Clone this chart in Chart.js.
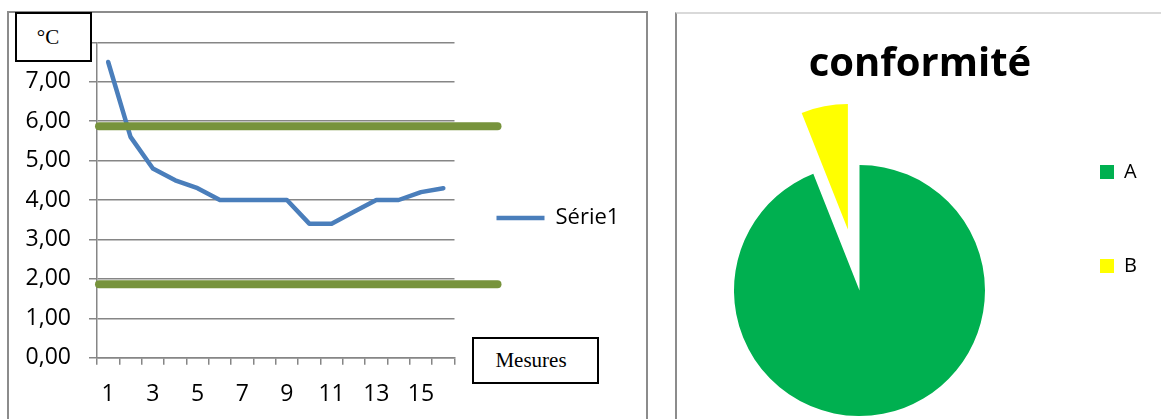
<!DOCTYPE html>
<html>
<head>
<meta charset="utf-8">
<script src="https://cdn.jsdelivr.net/npm/chart.js@4.4.1/dist/chart.umd.min.js"></script>
<style>
  html, body { margin: 0; padding: 0; background: #fff; overflow: hidden; width: 1161px; height: 419px; }
  #wrap { position: relative; width: 1161px; height: 419px; overflow: hidden; background: #fff; }
  .abs { position: absolute; }
  #leftPanel { left: 7px; top: 11px; width: 641px; height: 430px; box-sizing: border-box;
               border: 2px solid #8c8c8c; border-bottom: none; }
  #rightPanel { left: 675px; top: 12px; width: 500px; height: 430px; box-sizing: border-box;
                border-left: 2px solid #8c8c8c; border-top: 2px solid #d9d9d9; }
  #lineChart { left: 0; top: 0; }
  #pieChart { left: 660px; top: 13px; }
  .tbox { position: absolute; box-sizing: border-box; border: 2px solid #000; background: #fff;
          font-family: "Liberation Serif", "DejaVu Serif", serif; font-size: 21px; color: #000;
          display: flex; align-items: center; justify-content: center; }
</style>
</head>
<body>
<div id="wrap">
  <div id="leftPanel" class="abs"></div>
  <div id="rightPanel" class="abs"></div>
  <canvas id="lineChart" class="abs" width="660" height="419"></canvas>
  <canvas id="pieChart" class="abs" width="501" height="406"></canvas>
  <div class="tbox" style="left:15px;top:12px;width:77px;height:50px;padding-right:11px;">°C</div>
  <div class="tbox" style="left:472px;top:337px;width:127px;height:47px;padding-right:9px;">Mesures</div>
</div>
<script>
// ---------------- data ----------------
const categories = ['1','2','3','4','5','6','7','8','9','10','11','12','13','14','15','16'];
const seriesName = 'Série1';
const serie1 = [7.5, 5.6, 4.8, 4.5, 4.3, 4.0, 4.0, 4.0, 4.0, 3.4, 3.4, 3.7, 4.0, 4.0, 4.2, 4.3];
const limits = [5.87, 1.86];
const yTickLabels = ['0,00','1,00','2,00','3,00','4,00','5,00','6,00','7,00',''];
const pieTitle = 'conformité';
const pieLabels = ['A', 'B'];
const pieValues = [94, 6];

// ---------------- common ----------------
const FONT = '"Open Sans", "DejaVu Sans", sans-serif';
Chart.defaults.font.family = FONT;
Chart.defaults.color = '#000';
Chart.defaults.animation = false;

function measure(text, size, weight) {
  const c = document.createElement('canvas').getContext('2d');
  c.font = (weight ? weight + ' ' : '') + size + 'px ' + FONT;
  return c.measureText(text).width;
}

// ---------------- line chart ----------------
const GRID = '#868686';
const L_W = 660, L_H = 419;
const plotLeft = 97, plotTop = 42.3, plotRight = 454.5, plotBottom = 357.7;
const tickFont = 23;
const lgFont = 22, lgPad = 42, lgLine = 48, lgMid = 218;
const lgWidth = lgPad + lgLine + lgFont / 2 + measure(seriesName, lgFont) + 10;
const padBottomL = 0;
const padTopL = 2 * lgMid - (L_H - padBottomL);     // legend (full height) centred at lgMid
const spacerH = plotTop - padTopL;                   // empty top box that pushes the plot down
const xAxisH = L_H - padBottomL - plotBottom;

const limitLines = {
  id: 'limitLines',
  afterDatasetsDraw(chart) {
    const { ctx, chartArea, scales } = chart;
    ctx.save();
    ctx.strokeStyle = '#77933C';
    ctx.lineWidth = 8;
    ctx.lineCap = 'round';
    limits.forEach(v => {
      const py = scales.y.getPixelForValue(v);
      ctx.beginPath();
      ctx.moveTo(chartArea.left + 2, py);
      ctx.lineTo(chartArea.right + 43, py);
      ctx.stroke();
    });
    ctx.restore();
  }
};

const lineOptions = {
  responsive: false,
  devicePixelRatio: 1,
  animation: false,
  layout: { padding: { left: 0, top: padTopL, right: L_W - plotRight - lgWidth, bottom: padBottomL } },
  plugins: {
    legend: {
      position: 'right',
      align: 'center',
      maxWidth: 400,
      labels: {
        usePointStyle: true,
        pointStyleWidth: lgLine,
        padding: lgPad,
        color: '#000',
        font: { size: lgFont }
      }
    },
    title: {
      display: true,
      text: '',
      fullSize: false,
      font: { size: 10 },
      padding: { top: spacerH - 12, bottom: 0 }
    },
    tooltip: { enabled: false }
  },
  scales: {
    x: {
      type: 'category',
      offset: true,
      grid: { offset: true, drawOnChartArea: false, drawTicks: true, tickLength: 7, color: GRID, lineWidth: 1.5 },
      border: { color: GRID, width: 1.5 },
      ticks: {
        autoSkip: false, maxRotation: 0, minRotation: 0, padding: 16,
        color: '#000', font: { size: tickFont },
        callback: (v, i) => (i % 2 === 0 ? categories[i] : '')
      },
      afterFit: s => { s.height = xAxisH; }
    },
    y: {
      min: 0, max: 8,
      grid: { color: GRID, lineWidth: 1.5, tickLength: 8 },
      border: { color: GRID, width: 1.5 },
      ticks: {
        stepSize: 1, padding: 18, color: '#000', font: { size: tickFont },
        callback: (v, i) => yTickLabels[i]
      },
      afterFit: s => { s.width = plotLeft; }
    }
  }
};

const lineChart = new Chart(document.getElementById('lineChart'), {
  type: 'line',
  data: {
    labels: categories,
    datasets: [{
      label: seriesName,
      data: serie1,
      borderColor: '#4A7EBB',
      backgroundColor: '#4A7EBB',
      borderWidth: 4.5,
      borderJoinStyle: 'round',
      borderCapStyle: 'round',
      pointRadius: 0,
      pointHoverRadius: 0,
      pointStyle: 'line',
      tension: 0,
      fill: false
    }]
  },
  options: lineOptions,
  plugins: [limitLines]
});
{
  const dx = lineChart.chartArea.right - plotRight;
  if (Math.abs(dx) > 0.25) {
    lineOptions.layout.padding.right += dx;
    lineChart.update();
  }
}

// ---------------- pie chart ----------------
// Excel-style exploded pie: keeps the exploded slice's radius and angle unchanged
class ExplodedPieController extends Chart.PieController {
  updateElements(arcs, start, count, mode) {
    super.updateElements(arcs, start, count, mode);
    for (let i = start; i < start + count; i++) {
      const arc = arcs[i];
      const opts = arc.options || this.resolveDataElementOptions(i, mode);
      const t = (opts.offset || 0) / 4;
      if (!t) continue;
      const fix = 1 - Math.sin(Math.min(Math.PI, arc.circumference || 0));
      const r = t * fix;
      const R = arc.outerRadius;
      arc.outerRadius = R - r;
      const d = r / (2 * Math.PI * R);
      arc.startAngle -= d;
      arc.endAngle += d;
    }
  }
}
ExplodedPieController.id = 'explodedPie';
Chart.register(ExplodedPieController);

const P_X = 660, P_Y = 13, P_W = 501, P_H = 406;
const pieCx = 859.5 - P_X, pieCy = 290.5 - P_Y, pieR = 125.5;
const plFont = 20, plPad = 74, plBox = 14;
const plLeft = (1100 - P_X) - plPad;
const plWidth = plPad + plBox + plFont / 2 + Math.max(...pieLabels.map(t => measure(t, plFont))) + 10;
const padLeftP = 2 * pieCx - plLeft;
const legendMidP = 219 - P_Y;
const padTopP = 2 * legendMidP - P_H;
const titleBoxH = 2 * pieCy - padTopP - P_H;
const titleFont = 40;
const titleMid = 64.5 - P_Y;
const titlePadTop = titleMid - padTopP - titleFont * 1.2 / 2;
const titlePadBottom = titleBoxH - titleFont * 1.2 - titlePadTop;

const pieOptions = {
  responsive: false,
  devicePixelRatio: 1,
  animation: false,
  layout: { padding: { left: padLeftP, right: P_W - plLeft - plWidth, top: padTopP, bottom: 0 } },
  plugins: {
    title: {
      display: true,
      text: pieTitle,
      color: '#000',
      font: { size: titleFont, weight: 'bold' },
      padding: { top: titlePadTop, bottom: titlePadBottom }
    },
    legend: {
      position: 'right',
      align: 'center',
      maxWidth: 400,
      labels: {
        boxWidth: plBox, boxHeight: plBox, padding: plPad,
        color: '#000', font: { size: plFont }
      }
    },
    tooltip: { enabled: false }
  }
};

const pieChart = new Chart(document.getElementById('pieChart'), {
  type: 'explodedPie',
  data: {
    labels: pieLabels,
    datasets: [{
      data: pieValues,
      backgroundColor: ['#00B050', '#FFFF00'],
      borderWidth: 0,
      hoverOffset: 0,
      offset: [0, 248],
      radius: pieR,
      clip: false
    }]
  },
  options: pieOptions
});
{
  const dx = pieChart.legend.left - plLeft;
  if (Math.abs(dx) > 0.25) {
    pieOptions.layout.padding.right += dx;
    pieChart.update();
  }
}
</script>
</body>
</html>
